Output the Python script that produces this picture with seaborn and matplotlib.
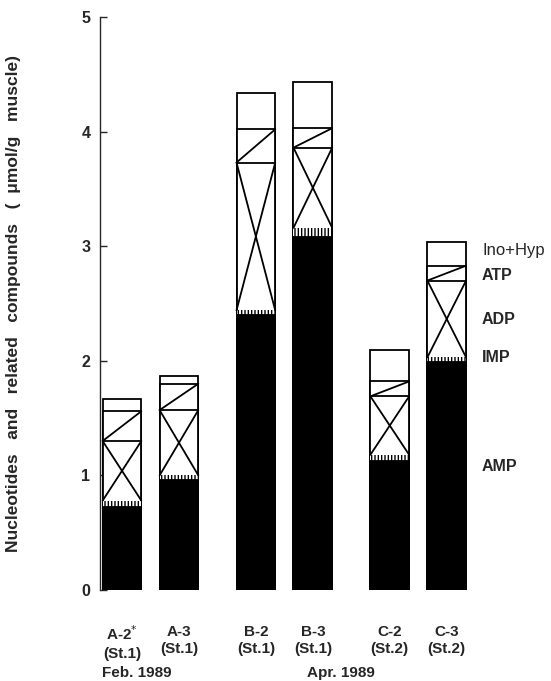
import numpy as np
import pandas as pd
import matplotlib
matplotlib.use('Agg')
import matplotlib.pyplot as plt
import seaborn as sns

# Values (umol/g muscle)
samples = ['A-2', 'A-3', 'B-2', 'B-3', 'C-2', 'C-3']
stations = ['(St.1)', '(St.1)', '(St.1)', '(St.1)', '(St.2)', '(St.2)']
months = ['Feb. 1989', 'Apr. 1989']
compounds = ['AMP', 'IMP', 'ADP', 'ATP', 'Ino+Hyp']
amp = [0.72, 0.96, 2.40, 3.08, 1.13, 1.99]
imp = [0.06, 0.04, 0.04, 0.08, 0.05, 0.04]
adp = [0.52, 0.57, 1.29, 0.70, 0.51, 0.67]
atp = [0.26, 0.23, 0.29, 0.17, 0.13, 0.13]
ino_hyp = [0.11, 0.07, 0.32, 0.40, 0.27, 0.21]

df = pd.DataFrame({'AMP': amp, 'IMP': imp, 'ADP': adp, 'ATP': atp, 'Ino+Hyp': ino_hyp},
                  index=samples)
cum = df[compounds].cumsum(axis=1)

# bar positions: pairs side by side, extra gap between sample groups
group_idx = np.array([ord(s[0]) - ord('A') for s in samples])
pos = np.arange(len(samples)) + 0.35 * group_idx
width = 0.68

sns.set_style('ticks')
plt.rcParams['font.family'] = ['Liberation Sans', 'DejaVu Sans']
plt.rcParams['hatch.linewidth'] = 1.0

fig = plt.figure(figsize=(5.51, 6.81), dpi=100)
ax = fig.add_axes([100 / 551, 1 - 590 / 681, 451 / 551, 573 / 681])

lw = 1.3
styles = {
    'Ino+Hyp': dict(color='white', edgecolor='black', linewidth=lw),
    'ATP': dict(color='white', edgecolor='black', linewidth=lw),
    'ADP': dict(color='white', edgecolor='black', linewidth=lw),
    'IMP': dict(color='white', edgecolor='black', linewidth=0, hatch='|||||'),
    'AMP': dict(color='black', edgecolor='black', linewidth=lw),
}

# draw cumulative layers from the top down so each one covers the one below
for comp in reversed(compounds):
    sns.barplot(x=pos, y=cum[comp].values, native_scale=True, width=width,
                errorbar=None, saturation=1, ax=ax, **styles[comp])

# cross in the ADP box and diagonal in the ATP box
left = pos - width / 2
right = pos + width / 2
for i in range(len(samples)):
    b, t = cum['IMP'].iloc[i], cum['ADP'].iloc[i]
    ax.plot([left[i], right[i]], [b, t], color='black', lw=lw)
    ax.plot([left[i], right[i]], [t, b], color='black', lw=lw)
    ax.plot([left[i], right[i]], [cum['ADP'].iloc[i], cum['ATP'].iloc[i]],
            color='black', lw=lw)

ax.set_xlim(-0.386, 7.53)
ax.set_ylim(0, 5)
ax.set_yticks(range(6))
ax.tick_params(axis='y', direction='in', length=5, width=1, pad=7, labelsize=11.5)
for lab in ax.get_yticklabels():
    lab.set_fontweight('bold')

xlabels = []
for s, st in zip(samples, stations):
    name = s + '$^{*}$' if s == 'A-2' else s
    xlabels.append(name + '\n' + st)
ax.set_xticks(pos)
ax.set_xticklabels(xlabels, fontsize=11, fontweight='bold', linespacing=1.3)
ax.tick_params(axis='x', length=0, pad=25)

for sp in ['top', 'right', 'bottom']:
    ax.spines[sp].set_visible(False)
ax.spines['left'].set_linewidth(1)

gap = '   '
ax.set_ylabel(gap.join(['Nucleotides', 'and', 'related', 'compounds',
                        '(  \u03bcmol/g', 'muscle)']),
              fontsize=12.5, fontweight='bold')
ax.yaxis.set_label_coords(-0.175, 0.5)
ax.set_xlabel('')

trans = ax.get_xaxis_transform()
ax.text(0.26, -0.145, months[0], transform=trans, ha='center', va='center',
        fontsize=11, fontweight='bold')
ax.text(3.85, -0.145, months[1], transform=trans, ha='center', va='center',
        fontsize=11, fontweight='bold')

# compound labels beside the last bar
label_y = {'Ino+Hyp': 2.96, 'ATP': 2.74, 'ADP': 2.36, 'IMP': 2.03, 'AMP': 1.08}
for comp in compounds:
    ax.text(6.32, label_y[comp], comp, ha='left', va='center',
            fontsize=12 if comp == 'Ino+Hyp' else 11.5,
            fontweight='normal' if comp == 'Ino+Hyp' else 'bold')

plt.savefig('out.png', dpi=100)
